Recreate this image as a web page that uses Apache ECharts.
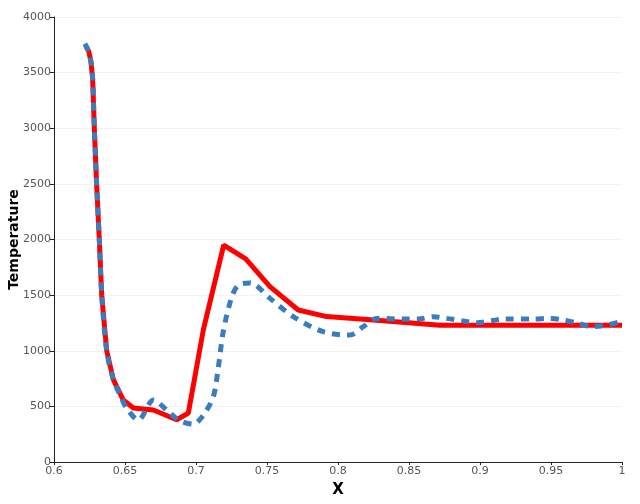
<!DOCTYPE html>
<html>
<head>
<meta charset="utf-8">
<script src="https://cdn.jsdelivr.net/npm/echarts@6/dist/echarts.min.js"></script>
<style>html,body{margin:0;padding:0;background:#fff;}#c{width:640px;height:504px;}</style>
</head>
<body>
<div id="c"></div>
<script>
var xTicks = [0.6, 0.65, 0.7, 0.75, 0.8, 0.85, 0.9, 0.95, 1];
var yTicks = [0, 500, 1000, 1500, 2000, 2500, 3000, 3500, 4000];

var redX = [0.6222, 0.6245, 0.626, 0.6272, 0.6284, 0.6300, 0.6319, 0.6336, 0.6371, 0.6418, 0.6488, 0.6559, 0.670, 0.6864, 0.6946, 0.7052, 0.7195, 0.7350, 0.7521, 0.772, 0.792, 0.825, 0.8718, 0.9, 0.95, 1.0];
var redT = [3745, 3690, 3600, 3450, 3000, 2500, 2000, 1500, 1000, 740, 557, 485, 467, 380, 440, 1190, 1950, 1825, 1576, 1366, 1307, 1276, 1230, 1230, 1230, 1230];

var blueX = [0.6218, 0.6243, 0.626, 0.6272, 0.6284, 0.6300, 0.6319, 0.6336, 0.6371, 0.6418, 0.6470, 0.6512, 0.6594, 0.670, 0.6794, 0.6876, 0.698, 0.7052, 0.7122, 0.7157, 0.7193, 0.7251, 0.7298, 0.738, 0.7521, 0.7685, 0.7896, 0.8085, 0.8178, 0.8272, 0.846, 0.8566, 0.8671, 0.8765, 0.8871, 0.8977, 0.9082, 0.9176, 0.9375, 0.9493, 0.9587, 0.9692, 0.9787, 0.9892, 0.9986];
var blueT = [3760, 3690, 3600, 3450, 3000, 2500, 2000, 1500, 1000, 740, 590, 482, 378, 557, 467, 378, 340, 422, 587, 850, 1180, 1480, 1590, 1610, 1471, 1307, 1171, 1141, 1216, 1291, 1285, 1285, 1306, 1291, 1270, 1252, 1270, 1285, 1285, 1291, 1276, 1246, 1216, 1231, 1261];

function zip(a, b) { return a.map(function (v, i) { return [v, b[i]]; }); }

var chart = echarts.init(document.getElementById('c'), null, { renderer: 'canvas' });
chart.setOption({
  animation: false,
  backgroundColor: '#ffffff',
  grid: { left: 54, right: 18, top: 17, bottom: 42, containLabel: false, outerBoundsMode: 'none' },
  xAxis: {
    type: 'value', min: xTicks[0], max: xTicks[xTicks.length - 1], interval: 0.05,
    name: 'X', nameLocation: 'middle', nameGap: 21, nameMoveOverlap: false,
    nameTextStyle: { fontFamily: 'DejaVu Sans', fontWeight: 'bold', fontSize: 15, color: '#000' },
    axisLine: { show: true, onZero: false, lineStyle: { color: '#222', width: 1 } },
    axisTick: { show: true, length: 3, lineStyle: { color: '#222' } },
    axisLabel: { fontFamily: 'DejaVu Sans', fontSize: 11, color: '#555', margin: 4,
      formatter: function (v) { return String(Math.round(v * 100) / 100); } },
    splitLine: { show: false }
  },
  yAxis: {
    type: 'value', min: yTicks[0], max: yTicks[yTicks.length - 1], interval: 500,
    name: 'Temperature', nameLocation: 'middle', nameGap: 33, nameRotate: 90, nameMoveOverlap: false,
    nameTextStyle: { fontFamily: 'DejaVu Sans', fontWeight: 'bold', fontSize: 14, color: '#000' },
    axisLine: { show: true, lineStyle: { color: '#222', width: 1 } },
    axisTick: { show: true, length: 4, lineStyle: { color: '#222' } },
    axisLabel: { fontFamily: 'DejaVu Sans', fontSize: 11, color: '#555', margin: 3,
      formatter: function (v) { return String(v); } },
    splitLine: { show: true, lineStyle: { color: '#f2f2f2', width: 1 } }
  },
  series: [
    {
      type: 'line', data: zip(redX, redT), showSymbol: false, smooth: false,
      lineStyle: { color: '#ff0000', width: 5 }, z: 2
    },
    {
      type: 'line', data: zip(blueX, blueT), showSymbol: false, smooth: 0.3,
      lineStyle: { color: '#3a7dbf', width: 5, type: [8, 7] }, z: 3
    }
  ]
});
</script>
</body>
</html>
